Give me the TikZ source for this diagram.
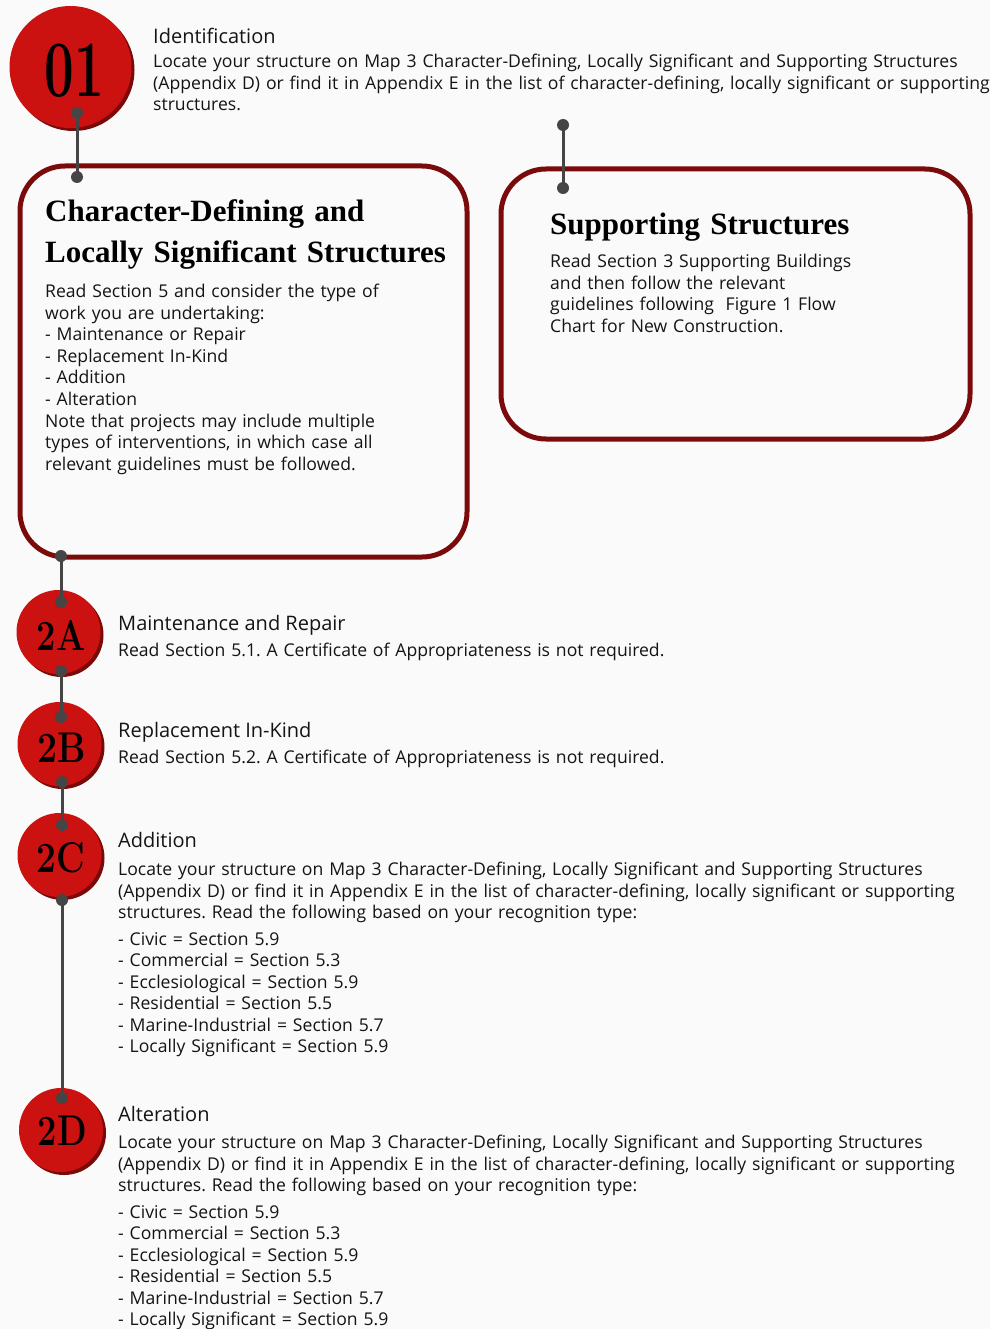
\documentclass[tikz,border=0pt]{standalone}
\usepackage{fontspec}
\usepackage{graphicx}
\usetikzlibrary{shadows}
\newfontfamily\bodyf{Open Sans}
\newfontfamily\headf{Liberation Serif}
\definecolor{bg}{HTML}{FAFAFA}
\definecolor{cred}{HTML}{CC1111}
\definecolor{cdark}{HTML}{7A0A0A}
\definecolor{cbox}{HTML}{7B0B0B}
\definecolor{cgray}{HTML}{454545}
\definecolor{ctext}{HTML}{141414}
\frenchspacing
\tikzset{
  badge/.style={circle, fill=cred, inner sep=0pt,
    drop shadow={shadow xshift=3pt, shadow yshift=-3pt, fill=cdark, opacity=1}},
  framebox/.style={draw=cbox, line width=5pt, rounded corners=45pt, inner sep=0pt},
  dotn/.style={circle, fill=cgray, minimum size=12pt, inner sep=0pt},
  conn/.style={draw=cgray, line width=3pt},
  lab/.style={anchor=base, inner sep=0pt, text=black, font=\rmfamily\bfseries},
  titletxt/.style={anchor=base west, inner sep=0pt, text=ctext, font=\bodyf\fontsize{20}{24}\selectfont},
  bodytxt/.style={anchor=base west, inner sep=0pt, align=left, text width=880pt, text=ctext, font=\bodyf\frenchspacing\fontsize{17.6}{21.6}\selectfont},
  listtxt/.style={anchor=base west, inner sep=0pt, align=left, text width=880pt, text=ctext, font=\bodyf\fontsize{17.6}{21.4}\selectfont},
  headtxt/.style={anchor=base west, inner sep=0pt, align=left, text width=440pt, text=black, font=\headf\bfseries\fontsize{31}{41}\selectfont}
}
\begin{document}
\begin{tikzpicture}[x=1pt,y=-1pt]
\useasboundingbox[fill=bg] (0,0) rectangle (990,1329);

% boxes
\node[framebox, minimum width=447pt, minimum height=391pt] (boxL) at (243.5,361.5) {};
\node[framebox, minimum width=469pt, minimum height=270pt] (boxR) at (735.5,304) {};

% badges
\node[badge, minimum size=122pt] (c01) at (70.5,67) {};
\node[badge, minimum size=84pt] (c2a) at (58.5,632) {};
\node[badge, minimum size=84pt] (c2b) at (59.5,744) {};
\node[badge, minimum size=84pt] (c2c) at (59.5,855) {};
\node[badge, minimum size=84pt] (c2d) at (61,1130) {};

\node[lab, font=\rmfamily\bfseries\fontsize{80}{80}\selectfont] (l01) at (74,97) {\scalebox{0.66}[1]{01}};
\node[lab, font=\rmfamily\bfseries\fontsize{43}{43}\selectfont] (l2a) at (61,650) {\scalebox{0.8}[1]{2A}};
\node[lab, font=\rmfamily\bfseries\fontsize{43}{43}\selectfont] (l2b) at (62,762) {\scalebox{0.83}[1]{2B}};
\node[lab, font=\rmfamily\bfseries\fontsize{43}{43}\selectfont] (l2c) at (61,872) {\scalebox{0.82}[1]{2C}};
\node[lab, font=\rmfamily\bfseries\fontsize{43}{43}\selectfont] (l2d) at (62.5,1145) {\scalebox{0.8}[1]{2D}};

% connector end points
\coordinate (p1) at (77,113);
\coordinate (p2) at (77,177);
\coordinate (p3) at (563,125);
\coordinate (p4) at (563,188);
\coordinate (p5) at (61,556);
\coordinate (p6) at (61,602);
\coordinate (p7) at (61,671);
\coordinate (p8) at (61,717);
\coordinate (p9) at (62,782);
\coordinate (p10) at (62,825);
\coordinate (p11) at (62,900);
\coordinate (p12) at (62,1098);

\draw[conn] (p1) -- (p2);
\draw[conn] (p3) -- (p4);
\draw[conn] (p5) -- (p6);
\draw[conn] (p7) -- (p8);
\draw[conn] (p9) -- (p10);
\draw[conn] (p11) -- (p12);

\foreach \i in {1,...,12} { \node[dotn] (dot\i) at (p\i) {}; }

% texts
\node[titletxt] (t01) at (153,43.5) {Identification};
\node[bodytxt] (b01) at (153,67.5) {Locate your structure on Map 3 Character-Defining, Locally Significant and Supporting Structures\\(Appendix D) or find it in Appendix E in the list of character-defining, locally significant or supporting\\structures.};

\node[headtxt] (hL) at (45,222) {Character-Defining and\\Locally Significant Structures};
\node[bodytxt] (bL) at (45,297.5) {Read Section 5 and consider the type of\\work you are undertaking:\\- Maintenance or Repair\\- Replacement In-Kind\\- Addition\\- Alteration\\Note that projects may include multiple\\types of interventions, in which case all\\relevant guidelines must be followed.};

\node[headtxt] (hR) at (550,235) {Supporting Structures};
\node[bodytxt] (bR) at (550,267.5) {Read Section 3 Supporting Buildings\\and then follow the relevant\\guidelines following\ \ Figure 1 Flow\\Chart for New Construction.};

\node[titletxt] (t2a) at (118,630) {Maintenance and Repair};
\node[bodytxt] (b2a) at (118,656) {Read Section 5.1. A Certificate of Appropriateness is not required.};

\node[titletxt] (t2b) at (118,737) {Replacement In-Kind};
\node[bodytxt] (b2b) at (118,763.5) {Read Section 5.2. A Certificate of Appropriateness is not required.};

\node[titletxt] (t2c) at (118,847.5) {Addition};
\node[bodytxt] (b2c) at (118,875.5) {Locate your structure on Map 3 Character-Defining, Locally Significant and Supporting Structures\\(Appendix D) or find it in Appendix E in the list of character-defining, locally significant or supporting\\structures. Read the following based on your recognition type:};
\node[listtxt] (s2c) at (118,945.5) {- Civic = Section 5.9\\- Commercial = Section 5.3\\- Ecclesiological = Section 5.9\\- Residential = Section 5.5\\- Marine-Industrial = Section 5.7\\- Locally Significant = Section 5.9};

\node[titletxt] (t2d) at (118,1121.5) {Alteration};
\node[bodytxt] (b2d) at (118,1148.5) {Locate your structure on Map 3 Character-Defining, Locally Significant and Supporting Structures\\(Appendix D) or find it in Appendix E in the list of character-defining, locally significant or supporting\\structures. Read the following based on your recognition type:};
\node[listtxt] (s2d) at (118,1218.5) {- Civic = Section 5.9\\- Commercial = Section 5.3\\- Ecclesiological = Section 5.9\\- Residential = Section 5.5\\- Marine-Industrial = Section 5.7\\- Locally Significant = Section 5.9};
\end{tikzpicture}
\end{document}
